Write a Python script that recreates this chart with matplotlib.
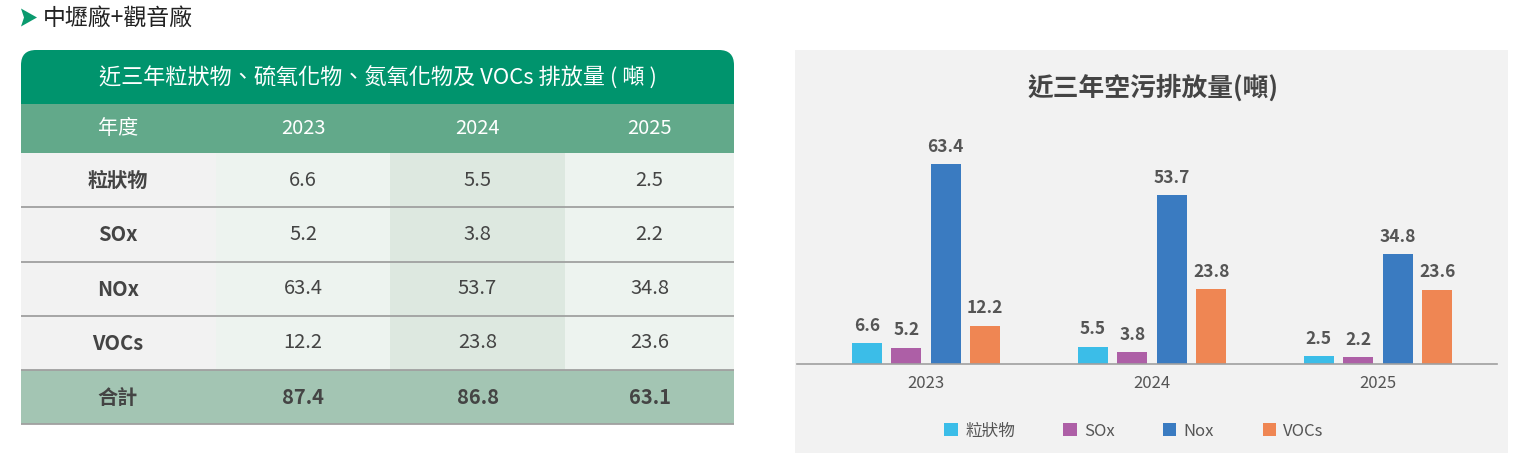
import matplotlib
matplotlib.use("Agg")
import matplotlib.pyplot as plt
from matplotlib.patches import Rectangle, FancyBboxPatch, Polygon
import numpy as np

plt.rcParams['font.family'] = ['Noto Sans CJK TC', 'DejaVu Sans']

# ---------------- data ----------------
years = ['2023', '2024', '2025']
row_labels = ['粒狀物', 'SOx', 'NOx', 'VOCs']
legend_labels = ['粒狀物', 'SOx', 'Nox', 'VOCs']
pm = [6.6, 5.5, 2.5]
sox = [5.2, 3.8, 2.2]
nox = [63.4, 53.7, 34.8]
vocs = [12.2, 23.8, 23.6]
totals = [87.4, 86.8, 63.1]
section_title = '中壢廠+觀音廠'
table_title = '近三年粒狀物、硫氧化物、氮氧化物及 VOCs 排放量 ( 噸 )'
chart_title = '近三年空污排放量(噸)'
bar_colors = ['#3bbde8', '#ad5fa6', '#3a7bc1', '#ef8653']

W, H = 1529, 454
fig = plt.figure(figsize=(W / 100, H / 100), dpi=100)
fig.patch.set_facecolor('white')

# overlay axes in pixel coordinates
ov = fig.add_axes([0, 0, 1, 1])
ov.set_xlim(0, W)
ov.set_ylim(H, 0)
ov.axis('off')

# section header
ov.add_patch(Polygon([(21, 8.5), (37, 17.5), (21, 26.5), (24, 17.5)],
                     closed=True, color='#0a9a6e', lw=0))
ov.text(43, 18, section_title, fontsize=16.5, color='#222222',
        va='center', ha='left', fontweight='medium')

# ---------------- table ----------------
tx0, tx1 = 21, 734
col_edges = [21, 216, 390, 565, 734]
title_top, title_bot = 50, 104
head_bot = 153
row_edges = [153, 207, 262, 316, 370, 424]

# title band with rounded top corners
ov.add_patch(FancyBboxPatch((tx0, title_top), tx1 - tx0, title_bot - title_top + 20,
                            boxstyle='round,pad=0,rounding_size=15',
                            fc='#00946d', ec='none', lw=0))
ov.add_patch(Rectangle((tx0, title_bot), tx1 - tx0, head_bot - title_bot,
                       fc='#62a98a', ec='none', lw=0))
ov.text((tx0 + tx1) / 2, (title_top + title_bot) / 2 + 1, table_title,
        fontsize=15.9, color='white', ha='center', va='center')

col_centers = [(col_edges[i] + col_edges[i + 1]) / 2 for i in range(4)]
col_centers[0] = 118
ov.text(col_centers[0], (title_bot + head_bot) / 2, '年度', fontsize=14.5,
        color='white', ha='center', va='center')
for j, y in enumerate(years):
    ov.text(col_centers[j + 1], (title_bot + head_bot) / 2, y, fontsize=14.5,
            color='white', ha='center', va='center')

col_bg = ['#f2f2f2', '#edf3ef', '#dde8e0', '#edf3ef']
body_rows = [pm, sox, nox, vocs]
for i, (lab, vals) in enumerate(zip(row_labels, body_rows)):
    y0, y1 = row_edges[i], row_edges[i + 1]
    for c in range(4):
        ov.add_patch(Rectangle((col_edges[c], y0), col_edges[c + 1] - col_edges[c],
                               y1 - y0, fc=col_bg[c], ec='none', lw=0))
    yc = (y0 + y1) / 2
    ov.text(col_centers[0], yc, lab, fontsize=14.5, color='#444444',
            ha='center', va='center', fontweight='bold')
    for j, v in enumerate(vals):
        ov.text(col_centers[j + 1], yc, f'{v:.1f}', fontsize=14.5, color='#444444',
                ha='center', va='center')

# total row
y0, y1 = row_edges[4], row_edges[5]
ov.add_patch(Rectangle((tx0, y0), tx1 - tx0, y1 - y0, fc='#a3c5b3', ec='none', lw=0))
ov.text(col_centers[0], (y0 + y1) / 2, '合計', fontsize=14.5, color='#444444',
        ha='center', va='center', fontweight='bold')
for j, v in enumerate(totals):
    ov.text(col_centers[j + 1], (y0 + y1) / 2, f'{v:.1f}', fontsize=14.5,
            color='#444444', ha='center', va='center', fontweight='bold')

for yl in row_edges[1:]:
    ov.plot([tx0, tx1], [yl, yl], color='#a0a0a0', lw=1.3, solid_capstyle='butt')

# chart panel background
ov.add_patch(Rectangle((795, 50), 713, 403, fc='#f2f2f2', ec='none', lw=0))
ov.text(1153, 88, chart_title, fontsize=18.5, color='#444444', ha='center',
        va='center', fontweight='bold')

# ---------------- bar chart ----------------
ax_l, ax_r = 797, 1497
ax_top, ax_bot = 140, 364
ax = fig.add_axes([ax_l / W, 1 - ax_bot / H, (ax_r - ax_l) / W, (ax_bot - ax_top) / H])
ax.set_facecolor('none')

x = np.arange(len(years))
gc = 926
unit = 226.0
ax.set_xlim(-(gc - ax_l) / unit, (ax_r - gc) / unit)
ax.set_ylim(0, (ax_bot - ax_top) / 3.15)

bw = 30 / unit
step = 39.5 / unit
offsets = [-1.5 * step, -0.5 * step, 0.5 * step, 1.5 * step]
series = [pm, sox, nox, vocs]
handles = []
for k, (vals, col) in enumerate(zip(series, bar_colors)):
    bars = ax.bar(x + offsets[k], vals, width=bw, color=col, label=legend_labels[k],
                  zorder=2)
    handles.append(bars)
    for xi, v in zip(x + offsets[k], vals):
        ax.annotate(f'{v:.1f}', (xi, v), xytext=(0, 6), textcoords='offset points',
                    ha='center', va='bottom', fontsize=12.5, fontweight='bold',
                    color='#555555')

for s in ['top', 'right', 'left']:
    ax.spines[s].set_visible(False)
ax.spines['bottom'].set_color('#a0a0a0')
ax.spines['bottom'].set_linewidth(1.2)
ax.set_yticks([])
ax.set_xticks(x)
ax.set_xticklabels(years, fontsize=12, color='#555555')
ax.tick_params(axis='x', length=0, pad=8)

leg = fig.legend(handles=handles, labels=legend_labels, loc='center',
                 bbox_to_anchor=(1134 / W, 1 - 431 / H), ncol=4, frameon=False,
                 fontsize=12, handlelength=0.8, handleheight=0.8,
                 handletextpad=0.45, columnspacing=2.9, labelcolor='#555555')

fig.savefig('out.png', dpi=100, facecolor='white')
